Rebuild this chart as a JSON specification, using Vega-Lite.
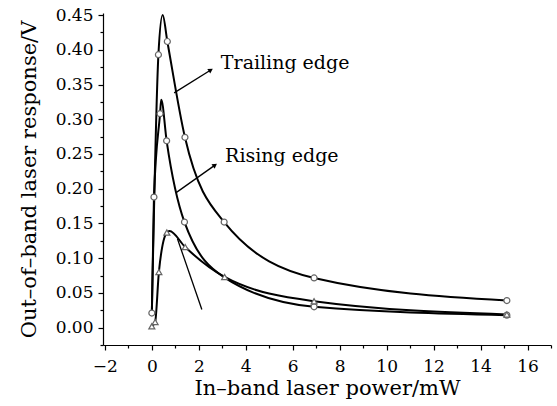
{
  "$schema": "https://vega.github.io/schema/vega-lite/v6.json",
  "width": 448,
  "height": 332,
  "autosize": {"type": "none"},
  "padding": {"left": 103, "top": 13, "right": 6, "bottom": 61},
  "background": "white",
  "config": {
    "view": {"stroke": null},
    "font": "DejaVu Serif",
    "axis": {
      "grid": false,
      "domainColor": "#000",
      "tickColor": "#000",
      "labelColor": "#000",
      "titleColor": "#000",
      "labelFont": "DejaVu Serif",
      "titleFont": "DejaVu Serif",
      "labelFontSize": 17,
      "titleFontSize": 21,
      "titleFontWeight": "normal",
      "domainWidth": 1.2,
      "tickWidth": 1.2
    }
  },
  "datasets": {
    "curves": [
      {"series": "trailing", "x": 0, "y": 0.021, "marker": true},
      {"series": "trailing", "x": 0.28, "y": 0.393, "marker": true},
      {"series": "trailing", "x": 0.46, "y": 0.45, "marker": false},
      {"series": "trailing", "x": 0.66, "y": 0.412, "marker": true},
      {"series": "trailing", "x": 1.41, "y": 0.274, "marker": true},
      {"series": "trailing", "x": 3.08, "y": 0.152, "marker": true},
      {"series": "trailing", "x": 6.91, "y": 0.0715, "marker": true},
      {"series": "trailing", "x": 15.12, "y": 0.039, "marker": true},
      {"series": "rising", "x": 0, "y": 0.02, "marker": false},
      {"series": "rising", "x": 0.09, "y": 0.188, "marker": true},
      {"series": "rising", "x": 0.35, "y": 0.308, "marker": true},
      {"series": "rising", "x": 0.40, "y": 0.328, "marker": false},
      {"series": "rising", "x": 0.63, "y": 0.269, "marker": true},
      {"series": "rising", "x": 1.39, "y": 0.152, "marker": true},
      {"series": "rising", "x": 3.1, "y": 0.072, "marker": false},
      {"series": "rising", "x": 6.91, "y": 0.030, "marker": true},
      {"series": "rising", "x": 15.12, "y": 0.018, "marker": true},
      {"series": "third", "x": 0, "y": 0.002, "marker": true},
      {"series": "third", "x": 0.14, "y": 0.008, "marker": true},
      {"series": "third", "x": 0.30, "y": 0.080, "marker": true},
      {"series": "third", "x": 0.64, "y": 0.137, "marker": true},
      {"series": "third", "x": 0.75, "y": 0.139, "marker": false},
      {"series": "third", "x": 1.42, "y": 0.116, "marker": true},
      {"series": "third", "x": 3.1, "y": 0.073, "marker": true},
      {"series": "third", "x": 6.91, "y": 0.038, "marker": true},
      {"series": "third", "x": 15.12, "y": 0.019, "marker": true}
    ],
    "arrows": [
      {"id": "trailing", "x": 0.95, "y": 0.338},
      {"id": "trailing", "x": 2.51, "y": 0.371},
      {"id": "rising", "x": 1.02, "y": 0.194},
      {"id": "rising", "x": 2.69, "y": 0.234},
      {"id": "third", "x": 1.09, "y": 0.128},
      {"id": "third", "x": 2.13, "y": 0.026}
    ],
    "heads": [
      {"id": "trailing", "x": 2.51, "y": 0.371},
      {"id": "rising", "x": 2.69, "y": 0.234}
    ],
    "labels": [
      {"text": "Trailing edge", "x": 2.94, "y": 0.372},
      {"text": "Rising edge", "x": 3.12, "y": 0.239}
    ]
  },
  "resolve": {"axis": {"x": "independent", "y": "independent"}},
  "layer": [
    {
      "data": {"name": "curves"},
      "mark": {"type": "line", "interpolate": "monotone", "color": "#000", "strokeWidth": 2},
      "encoding": {
        "x": {
          "field": "x", "type": "quantitative",
          "scale": {"domain": [-2.08, 17], "nice": false, "zero": false},
          "axis": {"orient": "bottom", "values": [-2, 0, 2, 4, 6, 8, 10, 12, 14, 16], "tickSize": 5, "labelPadding": 8, "title": "In–band laser power/mW", "titlePadding": 3}
        },
        "y": {
          "field": "y", "type": "quantitative",
          "scale": {"domain": [-0.025, 0.453], "nice": false, "zero": false},
          "axis": {"orient": "left", "values": [0, 0.05, 0.1, 0.15, 0.2, 0.25, 0.3, 0.35, 0.4, 0.45], "format": ".2f", "tickSize": 5, "labelPadding": 5, "title": "Out–of–band laser response/V", "titlePadding": 16}
        },
        "detail": {"field": "series"}
      }
    },
    {
      "data": {"name": "curves"},
      "transform": [{"filter": "datum.marker"}],
      "mark": {"type": "point", "filled": true, "fill": "#fff", "stroke": "#666", "strokeWidth": 1.2, "opacity": 1},
      "encoding": {
        "x": {"field": "x", "type": "quantitative", "axis": {"orient": "bottom", "values": [-1, 1, 3, 5, 7, 9, 11, 13, 15, 17], "tickSize": 3, "labels": false, "domain": false, "title": null}},
        "y": {"field": "y", "type": "quantitative", "axis": {"orient": "left", "values": [-0.025, 0.025, 0.075, 0.125, 0.175, 0.225, 0.275, 0.325, 0.375, 0.425], "tickSize": 3, "labels": false, "domain": false, "title": null}},
        "shape": {"field": "series", "type": "nominal", "scale": {"domain": ["trailing", "rising", "third"], "range": ["circle", "circle", "triangle-up"]}, "legend": null},
        "size": {"field": "series", "type": "nominal", "scale": {"domain": ["trailing", "rising", "third"], "range": [36, 36, 60]}, "legend": null}
      }
    },
    {
      "data": {"name": "arrows"},
      "mark": {"type": "line", "color": "#000", "strokeWidth": 1.3},
      "encoding": {
        "x": {"field": "x", "type": "quantitative", "axis": null},
        "y": {"field": "y", "type": "quantitative", "axis": null},
        "detail": {"field": "id"}
      }
    },
    {
      "data": {"name": "heads"},
      "transform": [{"filter": "datum.id == 'trailing'"}],
      "mark": {"type": "point", "shape": "triangle-up", "filled": true, "color": "#000", "size": 30, "angle": 57, "opacity": 1},
      "encoding": {
        "x": {"field": "x", "type": "quantitative", "axis": null},
        "y": {"field": "y", "type": "quantitative", "axis": null}
      }
    },
    {
      "data": {"name": "heads"},
      "transform": [{"filter": "datum.id == 'rising'"}],
      "mark": {"type": "point", "shape": "triangle-up", "filled": true, "color": "#000", "size": 30, "angle": 55, "opacity": 1},
      "encoding": {
        "x": {"field": "x", "type": "quantitative", "axis": null},
        "y": {"field": "y", "type": "quantitative", "axis": null}
      }
    },
    {
      "data": {"name": "labels"},
      "mark": {"type": "text", "align": "left", "baseline": "alphabetic", "font": "DejaVu Serif", "fontSize": 19, "color": "#000"},
      "encoding": {
        "x": {"field": "x", "type": "quantitative", "axis": null},
        "y": {"field": "y", "type": "quantitative", "axis": null},
        "text": {"field": "text"}
      }
    }
  ]
}
